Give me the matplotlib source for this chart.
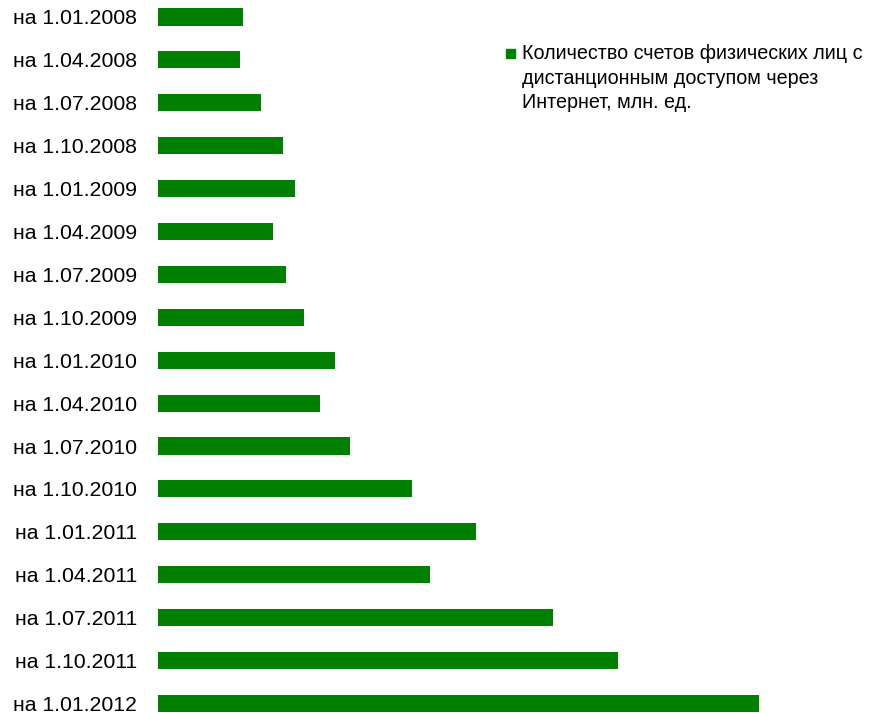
import matplotlib
matplotlib.use('Agg')
import matplotlib.pyplot as plt
from matplotlib.patches import Rectangle

plt.rcParams['font.family'] = ['Liberation Sans', 'DejaVu Sans']

dates = ['на 1.01.2008', 'на 1.04.2008', 'на 1.07.2008', 'на 1.10.2008',
         'на 1.01.2009', 'на 1.04.2009', 'на 1.07.2009', 'на 1.10.2009',
         'на 1.01.2010', 'на 1.04.2010', 'на 1.07.2010', 'на 1.10.2010',
         'на 1.01.2011', 'на 1.04.2011', 'на 1.07.2011', 'на 1.10.2011',
         'на 1.01.2012']
accounts = [2.0, 1.94, 2.44, 2.96, 3.24, 2.72, 3.03, 3.45, 4.18, 3.83,
            4.54, 6.0, 7.52, 6.43, 9.34, 10.87, 14.2]
legend_label = 'Количество счетов физических лиц с\nдистанционным доступом через\nИнтернет, млн. ед.'
green = '#008000'

fig = plt.figure(figsize=(8.69, 7.13), dpi=100)
ax = fig.add_axes([158/869, 0, 1 - 158/869, 1])

ypos = list(range(len(dates)))
ax.barh(ypos, accounts, height=0.4, color=green)
ax.set_ylim((713 - 17) / 42.9, -17 / 42.9)
ax.set_xlim(0, 711 / 42.3)
ax.set_yticks(ypos)
ax.set_yticklabels(dates, fontsize=15.3)
ax.tick_params(axis='y', length=0, pad=15)
ax.set_xticks([])
for s in ax.spines.values():
    s.set_visible(False)

# legend drawn by hand so the square sits on the first line
fig.add_artist(Rectangle((506/869, 1 - 58/713), 9/869, 9/713, color=green,
                         transform=fig.transFigure))
fig.text(522/869, 1 - 44/713, legend_label, fontsize=14.2, va='top', ha='left',
         linespacing=1.37)

fig.savefig('out.png', dpi=100)
